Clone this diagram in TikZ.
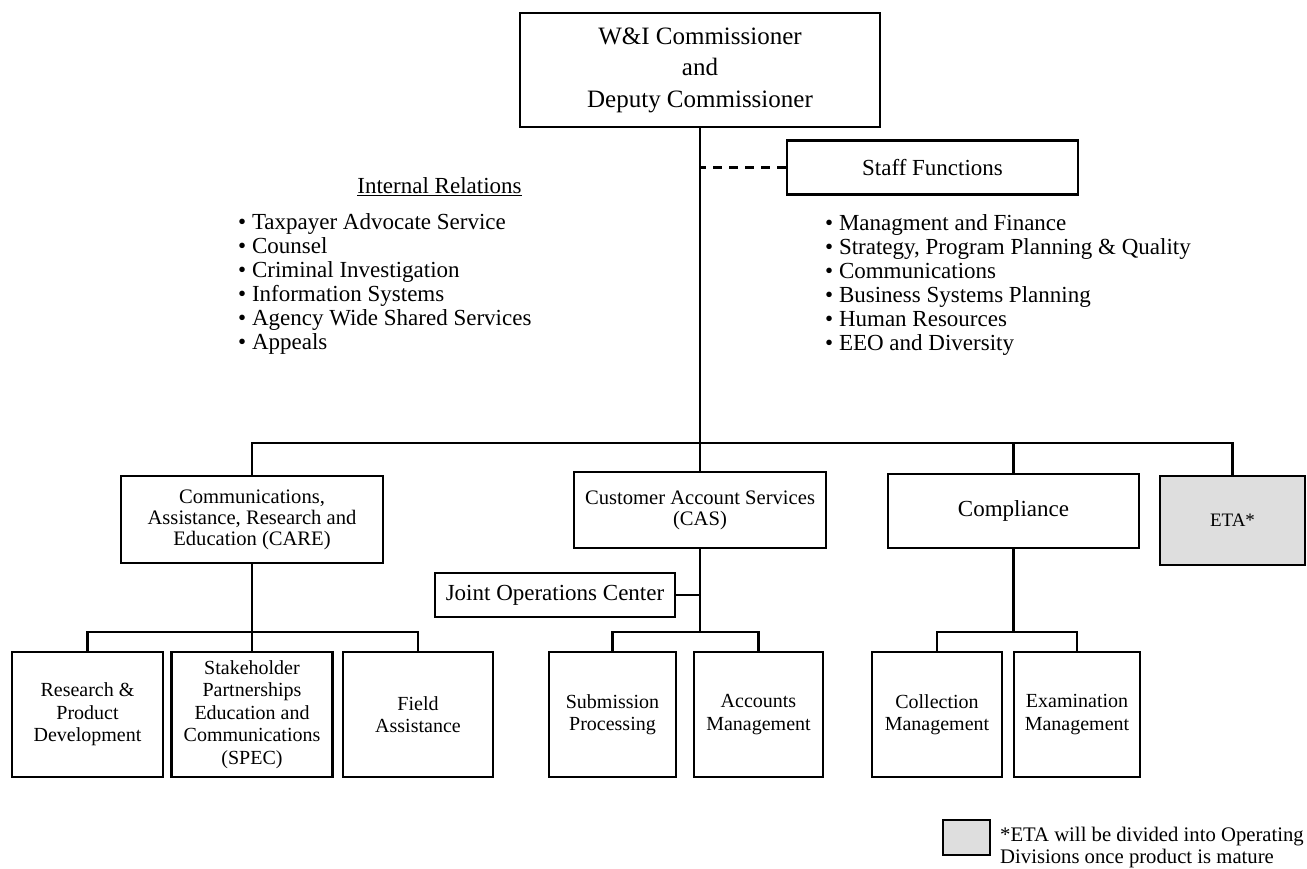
\documentclass[tikz,border=0pt]{standalone}
\usepackage{fontspec}
\setmainfont{Liberation Serif}
\usepackage{xcolor}
\definecolor{etagray}{HTML}{DEDEDE}
\newcommand{\fsz}[2]{\fontsize{#1}{#2}\selectfont}
\tikzset{
  orgbox/.style={draw, line width=2.8pt, align=center, inner sep=0pt},
  unitbox/.style={orgbox, minimum height=125pt, font=\fsz{20}{22.5}},
  conn/.style={line width=2.8pt},
  listitem/.style={anchor=base west, inner sep=0pt, font=\fsz{23}{24}}
}

\begin{document}
\begin{tikzpicture}[x=1pt,y=-1pt]
  \useasboundingbox (0,0) rectangle (1307,869);

  \node[orgbox, minimum width=360pt, minimum height=114pt, font=\fsz{25}{31.5}] (wi) at (700,70)
    {W\&I Commissioner\\and\\Deputy Commissioner};
  \node[orgbox, minimum width=291pt, minimum height=54pt, font=\fsz{23}{24}] (staff) at (932.5,167.5) {Staff Functions};

  \node[inner sep=0pt, font=\fsz{23}{24}] (irtitle) at (439.5,187) {\underline{Internal Relations}};
  \foreach \i/\txt in {0/Taxpayer Advocate Service, 1/Counsel, 2/Criminal Investigation,
      3/Information Systems, 4/Agency Wide Shared Services, 5/Appeals} {
    \node[listitem] (ir\i) at (238,{230+23.9*\i}) {\textbullet\ \txt};
  };
  \foreach \i/\txt in {0/Managment and Finance, 1/{Strategy, Program Planning \& Quality},
      2/Communications, 3/Business Systems Planning, 4/Human Resources, 5/EEO and Diversity} {
    \node[listitem] (sf\i) at (825,{230.5+24*\i}) {\textbullet\ \txt};
  };

  % divisions
  \node[orgbox, minimum width=262pt, minimum height=87pt, font=\fsz{20.6}{21}] (care) at (252,519.5)
    {Communications,\\Assistance, Research and\\Education (CARE)};
  \node[orgbox, minimum width=252pt, minimum height=76pt, font=\fsz{20.6}{21}] (cas) at (700,510)
    {Customer Account Services\\(CAS)};
  \node[orgbox, minimum width=251pt, minimum height=74pt, font=\fsz{23}{24}] (comp) at (1013.5,511) {Compliance};
  \node[orgbox, fill=etagray, minimum width=145pt, minimum height=89pt, font=\fsz{19}{21}] (eta) at (1232.5,520.5) {ETA*};
  \node[orgbox, minimum width=240pt, minimum height=44pt, font=\fsz{23}{24}] (joc) at (555,595) {Joint Operations Center};

  % units
  \foreach \nm/\cx/\w/\txt in {res/87.5/151/{Research \&\\Product\\Development},
      spec/252/161/{Stakeholder\\Partnerships\\Education and\\Communications\\(SPEC)},
      field/418/150/{Field\\Assistance},
      sub/612.5/127/{Submission\\Processing}, acc/758.5/129/{Accounts\\Management},
      coll/937/130/{Collection\\Management}, exam/1077/126/{Examination\\Management}} {
    \node[unitbox, minimum width=\w pt] (\nm) at (\cx,714.5) {\txt};
  };

  % connectors
  \coordinate (bus) at (700,443);
  \coordinate (ubus) at (700,632);
  \draw[conn] (wi.south) -- (cas.north);
  \draw[conn, dash pattern=on 9pt off 7pt] (staff.west) -- (staff.west -| wi.south);
  \draw[conn] (care.north) -- (care.north |- bus) -- (eta.north |- bus) -- (eta.north);
  \draw[conn] (comp.north) -- (comp.north |- bus);
  \draw[conn] (joc.east) -- (joc.east -| cas.south);
  \draw[conn] (care.south) -- (spec.north);
  \draw[conn] (res.north) -- (res.north |- ubus) -- (field.north |- ubus) -- (field.north);
  \draw[conn] (cas.south) -- (cas.south |- ubus);
  \draw[conn] (sub.north) -- (sub.north |- ubus) -- (acc.north |- ubus) -- (acc.north);
  \draw[conn] (comp.south) -- (comp.south |- ubus);
  \draw[conn] (coll.north) -- (coll.north |- ubus) -- (exam.north |- ubus) -- (exam.north);

  % legend
  \node[orgbox, fill=etagray, minimum width=47pt, minimum height=35pt] (key) at (966.5,837.5) {};
  \node[anchor=west, inner sep=0pt, align=left, font=\fsz{20.7}{22}] (keytxt) at (1000,848)
    {*ETA will be divided into Operating\\Divisions once product is mature};
\end{tikzpicture}
\end{document}
